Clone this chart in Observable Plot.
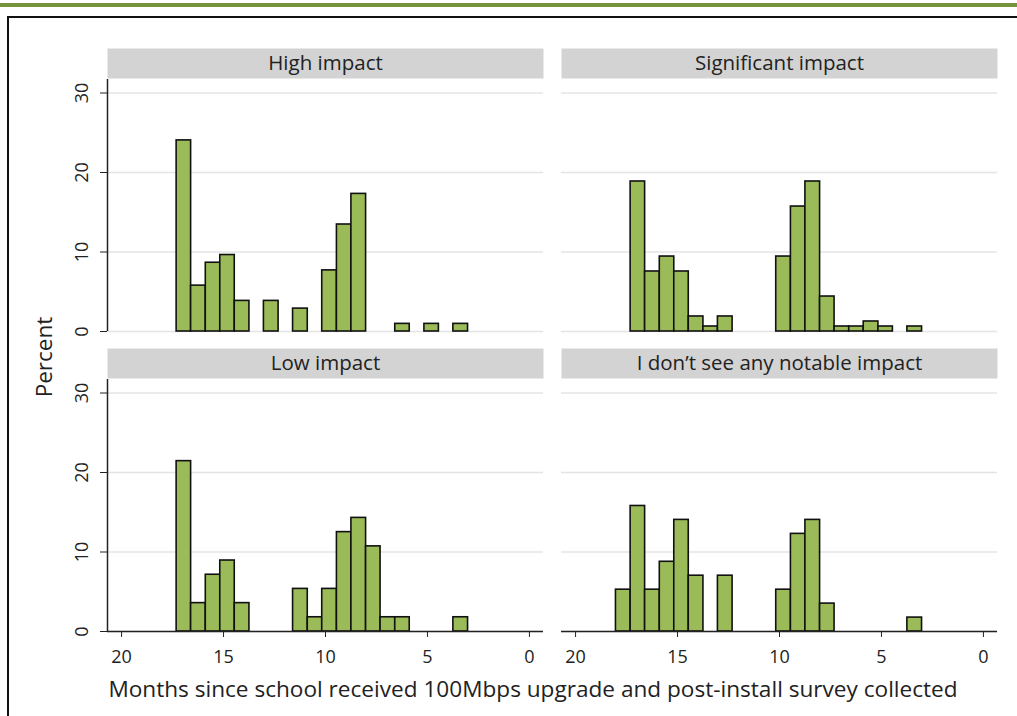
<!DOCTYPE html>
<html>
<head>
<meta charset="utf-8">
<script src="https://cdn.jsdelivr.net/npm/d3@7"></script>
<script src="https://cdn.jsdelivr.net/npm/@observablehq/plot@0.6"></script>
<style>
html, body { margin: 0; padding: 0; background: #fff; overflow: hidden; }
#wrap { position: relative; width: 1017px; height: 716px; overflow: hidden; background: #fff; font-family: "Open Sans", sans-serif; color: #222; }
#greenbar { position: absolute; left: 0; top: 3px; width: 1017px; height: 4px; background: #77933c; }
#box { position: absolute; left: 7px; top: 16px; width: 1100px; height: 800px; border-top: 2px solid #111; border-left: 2px solid #111; }
#chart { position: absolute; left: 0; top: 0; }
#ylabel { position: absolute; left: 43px; top: 357px; transform: translate(-50%, -50%) rotate(-90deg); font-size: 22.5px; white-space: nowrap; }
#xlabel { position: absolute; left: 533px; top: 688px; transform: translate(-50%, -50%); font-size: 22.6px; white-space: nowrap; }
</style>
</head>
<body>
<div id="wrap">
  <div id="greenbar"></div>
  <div id="box"></div>
  <div id="chart"></div>
  <div id="ylabel">Percent</div>
  <div id="xlabel">Months since school received 100Mbps upgrade and post-install survey collected</div>
</div>
<script>
// Histogram bin edges (months), from left (older) to right
const binEdges = [18.02, 17.30, 16.59, 15.87, 15.16, 14.45, 13.73, 13.02, 12.30, 11.59, 10.87,
                  10.16, 9.44, 8.73, 8.01, 7.30, 6.58, 5.87, 5.15, 4.44, 3.73, 3.01];
// Percent in each bin, per panel
const highImpact        = [0, 24.04, 5.77, 8.65, 9.62, 3.85, 0, 3.85, 0, 2.88, 0, 7.69, 13.46, 17.31, 0, 0, 0.96, 0, 0.96, 0, 0.96];
const significantImpact = [0, 18.87, 7.55, 9.43, 7.55, 1.89, 0.63, 1.89, 0, 0, 0, 9.43, 15.72, 18.87, 4.40, 0.63, 0.63, 1.26, 0.63, 0, 0.63];
const lowImpact         = [0, 21.43, 3.57, 7.14, 8.93, 3.57, 0, 0, 0, 5.36, 1.79, 5.36, 12.50, 14.29, 10.71, 1.79, 1.79, 0, 0, 0, 1.79];
const noImpact          = [5.26, 15.79, 5.26, 8.77, 14.04, 7.02, 0, 7.02, 0, 0, 0, 5.26, 12.28, 14.04, 3.51, 0, 0, 0, 0, 0, 1.75];
const panelTitles = ["High impact", "Significant impact", "Low impact", "I don\u2019t see any notable impact"];
const yTickValues = [0, 10, 20, 30];
const xTickValues = [20, 15, 10, 5, 0];
const xDomain = [20.69, -0.69];
const yDomain = [0, 31.7];

const series = [highImpact, significantImpact, lowImpact, noImpact];
const rows = [];
series.forEach((vals, p) => vals.forEach((v, i) => {
  if (v > 0) rows.push({col: p % 2, row: Math.floor(p / 2), hi: binEdges[i], lo: binEdges[i + 1], pct: v});
}));
const panels = panelTitles.map((t, p) => ({title: t, col: p % 2, row: Math.floor(p / 2)}));
const leftPanels = panels.filter(d => d.col === 0);
const bottomPanels = panels.filter(d => d.row === 1);
const yTickRows = leftPanels.flatMap(d => yTickValues.map(v => ({...d, v})));

const chart = Plot.plot({
  width: 1017,
  height: 716,
  marginLeft: 107,
  marginRight: 20,
  marginTop: 79,
  marginBottom: 85,
  style: {fontFamily: "'Open Sans', sans-serif", fontSize: "18px", color: "#222", background: "transparent"},
  fx: {domain: [0, 1], paddingInner: 18 / 454, paddingOuter: 0, axis: null},
  fy: {domain: [0, 1], paddingInner: 48 / 300, paddingOuter: 0, axis: null},
  x: {domain: xDomain},
  y: {domain: yDomain},
  marks: [
    Plot.frame({fill: "#d3d3d3", stroke: "none", insetTop: -31, insetBottom: 253}),
    Plot.text(panels, {fx: "col", fy: "row", text: "title", frameAnchor: "top", lineAnchor: "middle", dy: -16, fontSize: 20.5, fill: "#222"}),
    Plot.gridY(yTickValues, {stroke: "#e4e4e4", strokeOpacity: 1, strokeWidth: 1.5}),
    Plot.rectY(rows, {fx: "col", fy: "row", x1: "hi", x2: "lo", y: "pct", fill: "#9bbb59", stroke: "#111", strokeWidth: 1.6}),
    Plot.ruleX(leftPanels, {fx: "col", fy: "row", x: () => xDomain[0], stroke: "#222", strokeWidth: 1.5}),
    Plot.ruleY(bottomPanels, {fx: "col", fy: "row", y: () => 0, stroke: "#222", strokeWidth: 1.5}),
    Plot.axisY(yTickValues, {tickSize: 7, tickFormat: () => "", label: null, stroke: "#222"}),
    Plot.text(yTickRows, {fx: "col", fy: "row", y: "v", text: d => String(d.v), frameAnchor: "left", textAnchor: "middle", lineAnchor: "middle", dx: -25, rotate: -90, fontSize: 18, fill: "#222"}),
    Plot.axisX(xTickValues, {tickSize: 6, tickPadding: 13, label: null, fontSize: 18, stroke: "#222"})
  ]
});
document.getElementById("chart").appendChild(chart);
</script>
</body>
</html>
